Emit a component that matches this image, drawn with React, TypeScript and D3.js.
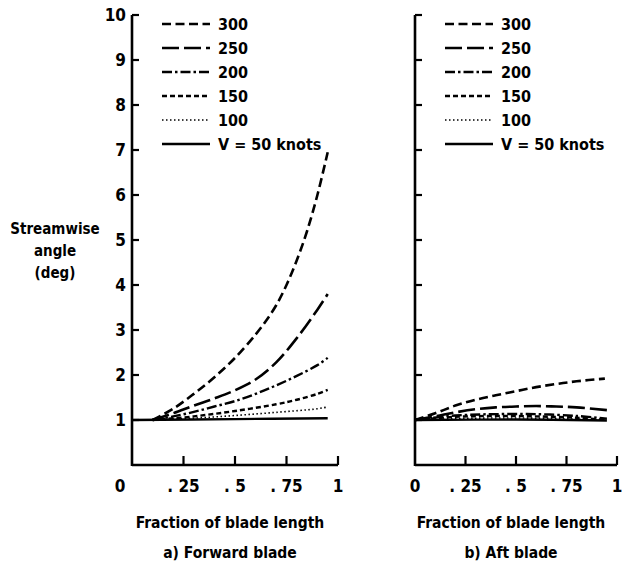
import React from "react";
import * as d3 from "d3";

type Pt = [number, number];

const speeds = ["300", "250", "200", "150", "100", "V = 50 knots"];
const yTicks = [0, 1, 2, 3, 4, 5, 6, 7, 8, 9, 10];
const yTickLabels = ["", "1", "2", "3", "4", "5", "6", "7", "8", "9", "10"];
const xTicks = [0, 0.25, 0.5, 0.75, 1];
const xTickLabels = ["0", ". 25", ". 5", ". 75", "1"];

const fwd300: Pt[] = [[0.1, 1.0], [0.2, 1.25], [0.3, 1.58], [0.4, 1.95], [0.5, 2.38], [0.6, 2.9], [0.65, 3.2], [0.7, 3.55], [0.75, 4.0], [0.8, 4.55], [0.85, 5.2], [0.9, 6.0], [0.95, 6.95]];
const fwd250: Pt[] = [[0.1, 1.0], [0.2, 1.15], [0.3, 1.32], [0.4, 1.48], [0.5, 1.66], [0.6, 1.9], [0.7, 2.28], [0.8, 2.82], [0.9, 3.45], [0.95, 3.8]];
const fwd200: Pt[] = [[0.1, 1.0], [0.2, 1.08], [0.3, 1.18], [0.4, 1.3], [0.5, 1.42], [0.6, 1.58], [0.7, 1.77], [0.8, 1.98], [0.9, 2.22], [0.95, 2.38]];
const fwd150: Pt[] = [[0.1, 1.0], [0.3, 1.08], [0.5, 1.2], [0.7, 1.35], [0.8, 1.45], [0.9, 1.58], [0.95, 1.67]];
const fwd100: Pt[] = [[0.1, 1.0], [0.3, 1.04], [0.5, 1.1], [0.7, 1.17], [0.9, 1.25], [0.95, 1.29]];
const fwd50: Pt[] = [[0, 1.0], [0.5, 1.02], [0.95, 1.04]];

const aft300: Pt[] = [[0, 1.0], [0.1, 1.15], [0.2, 1.32], [0.3, 1.45], [0.4, 1.55], [0.5, 1.64], [0.6, 1.73], [0.7, 1.8], [0.8, 1.86], [0.94, 1.92]];
const aft250: Pt[] = [[0, 1.0], [0.1, 1.08], [0.2, 1.17], [0.3, 1.24], [0.4, 1.28], [0.5, 1.3], [0.6, 1.31], [0.7, 1.3], [0.8, 1.28], [0.95, 1.22]];
const aft200: Pt[] = [[0, 1.0], [0.2, 1.1], [0.4, 1.13], [0.6, 1.13], [0.8, 1.09], [0.95, 1.03]];
const aft150: Pt[] = [[0, 1.0], [0.2, 1.07], [0.4, 1.09], [0.6, 1.08], [0.8, 1.05], [0.95, 1.0]];
const aft100: Pt[] = [[0, 1.0], [0.3, 1.04], [0.6, 1.04], [0.95, 1.0]];
const aft50: Pt[] = [[0, 1.0], [0.5, 1.01], [0.95, 0.99]];

const fwdSeries = [fwd300, fwd250, fwd200, fwd150, fwd100, fwd50];
const aftSeries = [aft300, aft250, aft200, aft150, aft100, aft50];

const dashes = ["9,4.5", "17,5", "10,3,2.5,3", "5,3", "1.5,2.5", ""];
const widths = [2.6, 2.6, 2.4, 2.4, 1.6, 2.4];

const FONT = "'DejaVu Sans Condensed', 'Liberation Sans Narrow', 'Liberation Sans', sans-serif";

function Panel({ x0, w, series, title, caption, showYLabels, zeroShift }: { x0: number; w: number; series: Pt[][]; title: string; caption: string; showYLabels: boolean; zeroShift: number }) {
  const x = d3.scaleLinear().domain([0, 1]).range([x0, x0 + w]);
  const y = d3.scaleLinear().domain([0, 10]).range([465, 15]);
  const line = d3.line<Pt>().x((d) => x(d[0])).y((d) => y(d[1])).curve(d3.curveCatmullRom.alpha(0.5));
  const legX = x0 + 30;
  return (
    <g>
      <line x1={x(0)} x2={x(0)} y1={y(0) + 1} y2={y(10)} stroke="#000" strokeWidth={2.6} />
      <line x1={x(0)} x2={x(1)} y1={y(0)} y2={y(0)} stroke="#000" strokeWidth={2.6} />
      {yTicks.map((t, i) => (
        <g key={"yt" + i}>
          {t > 0 && <line x1={x(0)} x2={x(0) + 7} y1={y(t)} y2={y(t)} stroke="#000" strokeWidth={2.2} />}
          {showYLabels && t > 0 && (
            <text x={x(0) - 6} y={y(t) + 6} textAnchor="end" fontSize={17} fontWeight="bold" fontFamily={FONT}>{yTickLabels[i]}</text>
          )}
        </g>
      ))}
      {xTicks.map((t, i) => (
        <g key={"xt" + i}>
          {t > 0 && <line x1={x(t)} x2={x(t)} y1={y(0)} y2={y(0) - 9} stroke="#000" strokeWidth={2.2} />}
          <text x={x(t) + (t === 0 ? zeroShift : 0)} y={y(0) + 27} textAnchor="middle" fontSize={17} fontWeight="bold" fontFamily={FONT}>{xTickLabels[i]}</text>
        </g>
      ))}
      {series.map((s, i) => (
        <path key={"c" + i} d={line(s) || ""} fill="none" stroke="#000" strokeWidth={widths[i]} strokeDasharray={dashes[i]} />
      ))}
      {speeds.map((s, i) => (
        <g key={"lg" + i}>
          <line x1={legX} x2={legX + 48} y1={24 + i * 24} y2={24 + i * 24} stroke="#000" strokeWidth={widths[i]} strokeDasharray={dashes[i]} />
          <text x={legX + 56} y={24 + i * 24 + 6} fontSize={16} fontWeight="bold" fontFamily={FONT} style={{ whiteSpace: "pre" }}>{s}</text>
        </g>
      ))}
      <text x={x(0.5) - 5} y={528} textAnchor="middle" fontSize={15.5} fontWeight="bold" fontFamily={FONT}>{title}</text>
      <text x={x(0.5) - 5} y={558} textAnchor="middle" fontSize={15.5} fontWeight="bold" fontFamily={FONT}>{caption}</text>
    </g>
  );
}

export default function App() {
  return (
    <svg width={624} height={562} style={{ position: "absolute", left: 0, top: 0, background: "#fff" }}>
      <rect width={624} height={562} fill="#fff" />
      <text x={55} y={234} textAnchor="middle" fontSize={15} fontWeight="bold" fontFamily={FONT}>Streamwise</text>
      <text x={55} y={256} textAnchor="middle" fontSize={15} fontWeight="bold" fontFamily={FONT}>angle</text>
      <text x={55} y={278} textAnchor="middle" fontSize={15} fontWeight="bold" fontFamily={FONT}>(deg)</text>
      <Panel x0={132} w={206} series={fwdSeries} title="Fraction of blade length" caption="a) Forward blade" showYLabels={true} zeroShift={-12} />
      <Panel x0={415} w={202} series={aftSeries} title="Fraction of blade length" caption="b) Aft blade" showYLabels={false} zeroShift={0} />
    </svg>
  );
}
